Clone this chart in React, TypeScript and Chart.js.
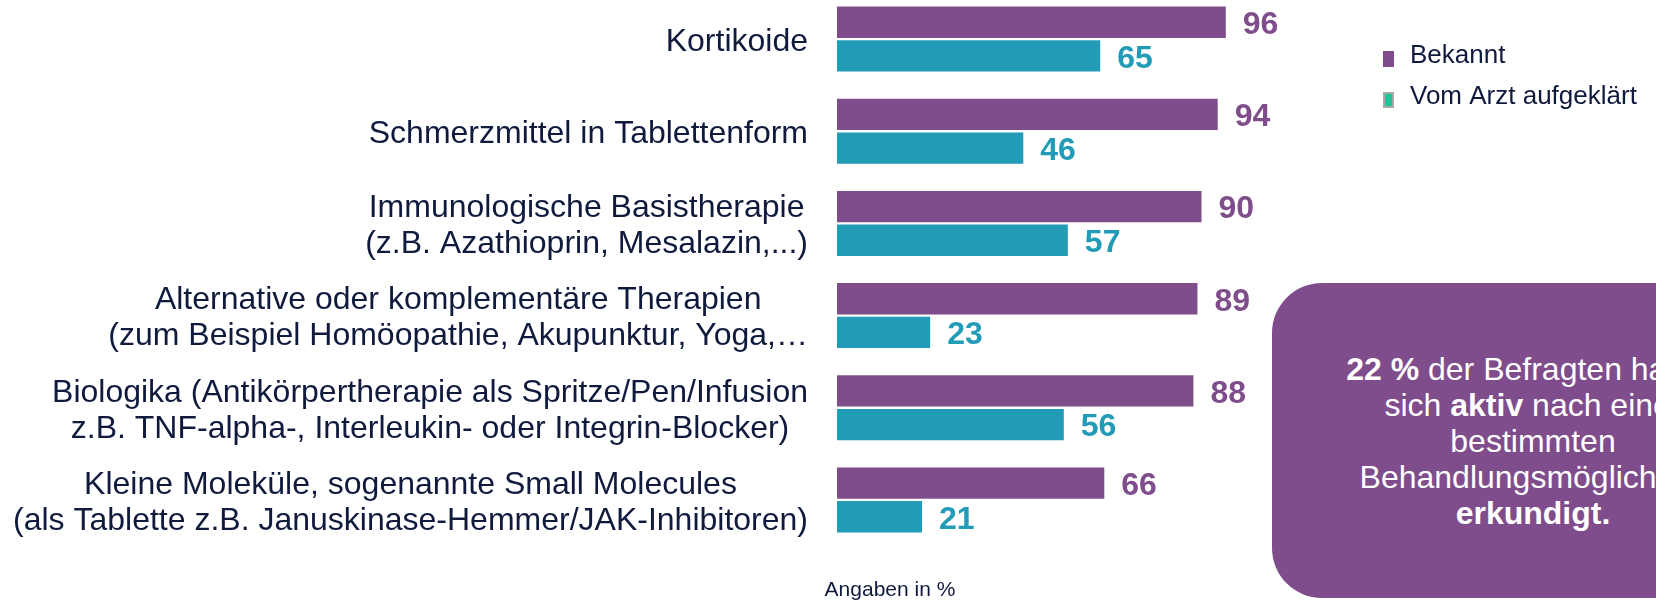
import React, { useEffect, useRef } from "react";
import { Chart, registerables } from "chart.js";

Chart.register(...registerables);

const categories: string[][] = [
  ["Kortikoide"],
  ["Schmerzmittel in Tablettenform"],
  ["Immunologische Basistherapie", "(z.B. Azathioprin, Mesalazin,...)"],
  ["Alternative oder komplementäre Therapien", "(zum Beispiel Homöopathie, Akupunktur, Yoga,…"],
  ["Biologika (Antikörpertherapie als Spritze/Pen/Infusion", "z.B. TNF-alpha-, Interleukin- oder Integrin-Blocker)"],
  ["Kleine Moleküle, sogenannte Small Molecules", "(als Tablette z.B. Januskinase-Hemmer/JAK-Inhibitoren)"],
];
const bekannt = [96, 94, 90, 89, 88, 66];
const aufgeklaert = [65, 46, 57, 23, 56, 21];
const seriesLabels = ["Bekannt", "Vom Arzt aufgeklärt"];
const footnote = "Angaben in %";

const PURPLE = "#7f4c8c";
const TEAL = "#229bb7";
const NAVY = "#0f1a3d";
const LEGEND_FILL = [PURPLE, "#22c497"];
const LEGEND_BORDER = [PURPLE, "#a8a8a8"];
const FONT = "'Liberation Sans', Arial, Helvetica, sans-serif";
const Y_OFF = 7; // canvas is shifted up by this much

const labelPlugin = {
  id: "customLabels",
  afterDatasetsDraw(chart: any) {
    const ctx = chart.ctx;
    const yScale = chart.scales.y;
    ctx.save();
    // category labels: block right-aligned, lines centered within block
    ctx.font = `32px ${FONT}`;
    ctx.fillStyle = NAVY;
    ctx.textBaseline = "middle";
    ctx.textAlign = "center";
    const lineH = 36;
    const blockRight = yScale.right - 29;
    categories.forEach((lines, i) => {
      const yc = yScale.getPixelForTick(i) + 3;
      const widths = lines.map((l) => ctx.measureText(l).width);
      const bw = Math.max(...widths);
      const cx = blockRight - bw / 2;
      lines.forEach((l, j) => {
        const y = yc + (j - (lines.length - 1) / 2) * lineH;
        ctx.fillText(l, cx, y);
      });
    });
    // value labels
    ctx.font = `bold 32px ${FONT}`;
    ctx.textAlign = "left";
    chart.data.datasets.forEach((ds: any, di: number) => {
      const meta = chart.getDatasetMeta(di);
      meta.data.forEach((bar: any, i: number) => {
        ctx.fillStyle = ds.backgroundColor;
        ctx.fillText(String(ds.data[i]), bar.x + 17, bar.y + 3);
      });
    });
    // legend
    ctx.font = `26px ${FONT}`;
    const legendX = 1383;
    const legendTop = [51 + Y_OFF, 92 + Y_OFF];
    seriesLabels.forEach((txt, i) => {
      const top = legendTop[i];
      ctx.fillStyle = LEGEND_BORDER[i];
      ctx.fillRect(legendX, top, 11, 16);
      ctx.fillStyle = LEGEND_FILL[i];
      ctx.fillRect(legendX + 2, top + 2, 7, 12);
      ctx.fillStyle = NAVY;
      ctx.textBaseline = "middle";
      ctx.fillText(txt, 1410, top + 5);
    });
    // footnote
    ctx.font = `21px ${FONT}`;
    ctx.textAlign = "center";
    ctx.fillStyle = NAVY;
    ctx.fillText(footnote, 890, 590 + Y_OFF);
    ctx.restore();
  },
};

function BarChart() {
  const ref = useRef<HTMLCanvasElement | null>(null);
  useEffect(() => {
    if (!ref.current) return;
    const chart = new Chart(ref.current, {
      type: "bar",
      data: {
        labels: categories.map((c) => c.join(" ")),
        datasets: [
          {
            label: seriesLabels[0],
            data: bekannt,
            backgroundColor: PURPLE,
            categoryPercentage: 0.73,
            barPercentage: 0.93,
          },
          {
            label: seriesLabels[1],
            data: aufgeklaert,
            backgroundColor: TEAL,
            categoryPercentage: 0.73,
            barPercentage: 0.93,
          },
        ],
      },
      options: {
        indexAxis: "y",
        animation: false,
        responsive: false,
        layout: { padding: { left: 0, right: 414, top: 0, bottom: 54 } },
        scales: {
          x: { display: false, min: 0, max: 100 },
          y: {
            grid: { display: false },
            border: { display: false },
            ticks: { display: false },
            afterFit: (scale: any) => {
              scale.width = 837;
            },
          },
        },
        plugins: {
          legend: { display: false },
          tooltip: { enabled: false },
        },
      },
      plugins: [labelPlugin],
    });
    return () => chart.destroy();
  }, []);
  return <canvas ref={ref} width={1656} height={607} style={{ display: "block" }} />;
}

export default function App() {
  return (
    <div
      style={{
        position: "absolute",
        left: 0,
        top: 0,
        width: 1656,
        height: 600,
        overflow: "hidden",
        background: "#ffffff",
      }}
    >
      <div style={{ position: "absolute", left: 0, top: -Y_OFF, width: 1656, height: 607 }}>
        <BarChart />
      </div>
      <div
        style={{
          position: "absolute",
          left: 1272,
          top: 283,
          width: 522,
          height: 315,
          borderRadius: 50,
          background: PURPLE,
          color: "#ffffff",
          fontFamily: FONT,
          fontSize: 32,
          lineHeight: "36px",
          textAlign: "center",
          display: "flex",
          alignItems: "center",
          justifyContent: "center",
        }}
      >
        <div>
          <b>22 %</b> der Befragten haben
          <br />
          sich <b>aktiv</b> nach einer
          <br />
          bestimmten
          <br />
          Behandlungsmöglichkeit
          <br />
          <b>erkundigt.</b>
        </div>
      </div>
    </div>
  );
}
